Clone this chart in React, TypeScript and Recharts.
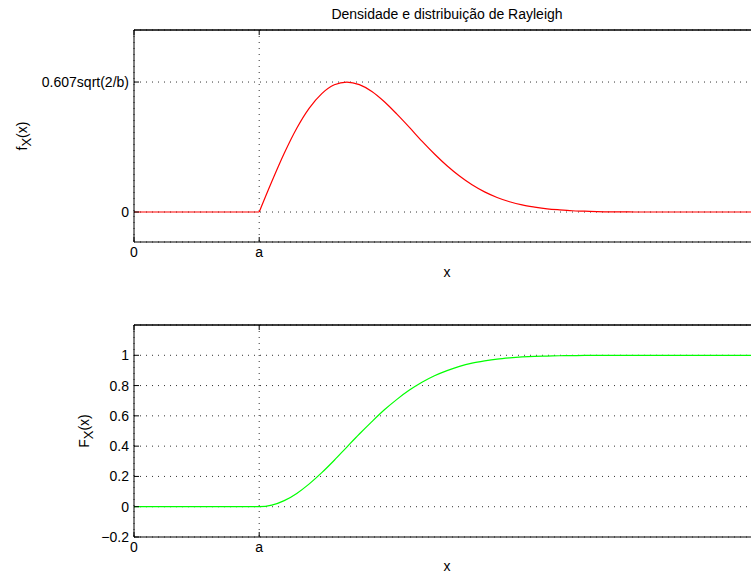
import { LineChart, Line, XAxis, YAxis, CartesianGrid, ReferenceLine } from 'recharts';

const xValues = [
  0, 0.1, 0.2, 0.3, 0.4, 0.5, 0.6, 0.7, 0.8, 0.9, 1.0,
  1.1, 1.2, 1.3, 1.4, 1.5, 1.6, 1.7, 1.8, 1.9, 2.0,
  2.1, 2.2, 2.3, 2.4, 2.5, 2.6, 2.7, 2.8, 2.9, 3.0,
  3.1, 3.2, 3.3, 3.4, 3.5, 3.6, 3.7, 3.8, 3.9, 4.0,
  4.1, 4.2, 4.3, 4.4, 4.5, 4.6, 4.7, 4.8, 4.9, 5.0,
];

const density = [
  0, 0, 0, 0, 0, 0, 0, 0, 0, 0, 0,
  0.141, 0.274, 0.391, 0.485, 0.553, 0.594, 0.607, 0.595, 0.563, 0.515,
  0.457, 0.395, 0.331, 0.271, 0.216, 0.168, 0.127, 0.094, 0.068, 0.048,
  0.033, 0.023, 0.015, 0.01, 0.006, 0.004, 0.002, 0.001, 0.001, 0,
  0, 0, 0, 0, 0, 0, 0, 0, 0, 0,
];

const distribution = [
  0, 0, 0, 0, 0, 0, 0, 0, 0, 0, 0,
  0.01, 0.04, 0.088, 0.151, 0.225, 0.307, 0.394, 0.48, 0.562, 0.64,
  0.709, 0.77, 0.822, 0.865, 0.899, 0.927, 0.948, 0.963, 0.975, 0.983,
  0.989, 0.993, 0.995, 0.997, 0.998, 0.999, 0.999, 1, 1, 1,
  1, 1, 1, 1, 1, 1, 1, 1, 1, 1,
];

const a = 1;
const xTicks = [0, a];
const xTickNames = ['0', 'a'];
const pdfTicks = [0, 0.607];
const pdfTickNames = ['0', '0.607sqrt(2/b)'];
const cdfTicks = [-0.2, 0, 0.2, 0.4, 0.6, 0.8, 1];

// split at x = a so the density keeps its sharp corner there
const data = xValues.map((x, i) => ({
  x,
  pdfFlat: x <= a ? density[i] : null,
  pdf: x >= a ? density[i] : null,
  cdf: distribution[i],
}));

const FONT = '"Liberation Sans", Arial, Helvetica, sans-serif';
const tickStyle = { fill: '#000', fontSize: 14, fontFamily: FONT };

const xName = (v: number) => xTickNames[xTicks.indexOf(v)] ?? '';
const pdfName = (v: number) => pdfTickNames[pdfTicks.indexOf(v)] ?? '';
const cdfName = (v: number) => {
  const s = Number(v.toFixed(1)).toString();
  return s.startsWith('-') ? '\u2212' + s.slice(1) : s;
};

function SubLabel({ viewBox, main, cx }: any) {
  const cy = viewBox.y + viewBox.height / 2;
  return (
    <text
      x={cx}
      y={cy}
      transform={`rotate(-90, ${cx}, ${cy})`}
      textAnchor="middle"
      dominantBaseline="central"
      fontFamily={FONT}
      fontSize={14}
      fill="#000"
    >
      <tspan>{main}</tspan>
      <tspan dy={4} fontSize={13}>X</tspan>
      <tspan dy={-4}>(x)</tspan>
    </text>
  );
}

function Panel({ lines, domain, yTicks, yFormat, label, labelX, top, xLabelOffset }: any) {
  const height = top + 212 + 48;
  return (
    <LineChart
      width={760}
      height={height}
      data={data}
      margin={{ top: top - 1, right: 0, left: 0, bottom: 0 }}
    >
      <CartesianGrid stroke="#333" strokeDasharray="1 5" />
      <XAxis
        dataKey="x"
        type="number"
        domain={[0, 5]}
        ticks={xTicks}
        tickFormatter={xName}
        allowDataOverflow
        height={48}
        tick={tickStyle}
        tickLine={{ stroke: '#000' }}
        tickSize={-5}
        tickMargin={10}
        axisLine={{ stroke: '#000' }}
        label={{ value: 'x', position: 'insideBottom', offset: xLabelOffset, style: tickStyle }}
      />
      <XAxis
        xAxisId="top"
        dataKey="x"
        type="number"
        orientation="top"
        domain={[0, 5]}
        ticks={xTicks}
        tickFormatter={() => ''}
        allowDataOverflow
        height={1}
        tickLine={{ stroke: '#000' }}
        tickSize={-5}
        axisLine={{ stroke: '#000' }}
      />
      <YAxis
        type="number"
        domain={domain}
        ticks={yTicks}
        tickFormatter={yFormat}
        allowDataOverflow
        width={134}
        tick={tickStyle}
        tickLine={{ stroke: '#000' }}
        tickSize={-5}
        tickMargin={10}
        axisLine={{ stroke: '#000' }}
        label={<SubLabel main={label} cx={labelX} />}
      />
      <ReferenceLine y={domain[1]} stroke="#000" ifOverflow="visible" />
      {lines.map((l: any) => (
        <Line
          key={l.key}
          dataKey={l.key}
          type={l.type}
          stroke={l.color}
          strokeWidth={1.2}
          dot={false}
          isAnimationActive={false}
        />
      ))}
    </LineChart>
  );
}

export default function App() {
  return (
    <div
      style={{
        position: 'absolute',
        left: 0,
        top: 0,
        width: 751,
        height: 573,
        overflow: 'hidden',
        background: '#fff',
      }}
    >
      <div
        style={{
          position: 'absolute',
          left: 447,
          top: 6,
          transform: 'translateX(-50%)',
          whiteSpace: 'nowrap',
          fontFamily: FONT,
          fontSize: 14,
          color: '#000',
        }}
      >
        Densidade e distribuição de Rayleigh
      </div>
      <div style={{ position: 'absolute', left: 0, top: 0 }}>
        <Panel
          lines={[
            { key: 'pdfFlat', type: 'linear', color: '#ff0000' },
            { key: 'pdf', type: 'monotone', color: '#ff0000' },
          ]}
          domain={[-0.14, 0.85]}
          yTicks={pdfTicks}
          yFormat={pdfName}
          label="f"
          labelX={22}
          top={30}
          xLabelOffset={13}
        />
      </div>
      <div style={{ position: 'absolute', left: 0, top: 290 }}>
        <Panel
          lines={[{ key: 'cdf', type: 'monotone', color: '#00ff00' }]}
          domain={[-0.2, 1.2]}
          yTicks={cdfTicks}
          yFormat={cdfName}
          label="F"
          labelX={84}
          top={35}
          xLabelOffset={14}
        />
      </div>
    </div>
  );
}
